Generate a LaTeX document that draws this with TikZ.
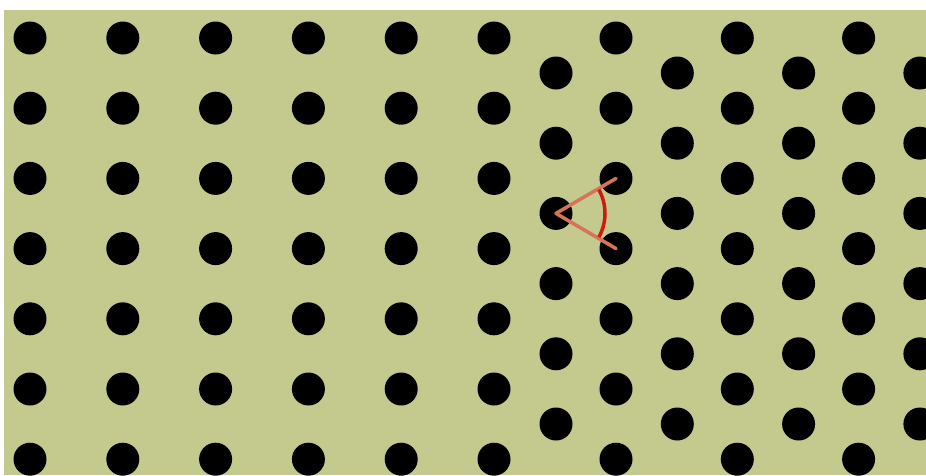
\documentclass[tikz,border=0pt]{standalone}
\usepackage{tikz}

\definecolor{platebg}{RGB}{196,201,142}
\definecolor{bondred}{RGB}{214,116,90}
\definecolor{arcred}{RGB}{202,28,18}

\begin{document}
\begin{tikzpicture}[
    x=1pt, y=-1pt,
    dot/.style={circle, fill=black, minimum size=33pt, inner sep=0pt},
    bond/.style={draw=bondred, line width=3.5pt, line cap=round},
    anglearc/.style={draw=arcred, line width=3.5pt}
]

    % Frame
    \useasboundingbox (0,0) rectangle (926,475);
    \fill [platebg] (4,10) rectangle (926,475);

    \begin{scope}
    \clip (4,10) rectangle (926,475);

    % Square lattice (left)
    \foreach \i in {0,...,5}
        \foreach \j in {0,...,6}
            \node (sq-\i-\j) [dot] at (30+92.8*\i, 38+70.2*\j) {};

    % Hexagonal lattice (right): columns on the square rows
    \foreach \i in {0,1,2}
        \foreach \j in {0,...,6}
            \node (hxa-\i-\j) [dot] at (616+121.3*\i, 38+70.2*\j) {};

    % Hexagonal lattice: shifted columns
    \foreach \i in {0,...,3}
        \foreach \j in {0,...,5}
            \node (hxb-\i-\j) [dot] at (556+121.3*\i, 73+70.2*\j) {};
    \end{scope}

    % 60 degree angle between neighbours
    \draw [bond] (hxb-0-2.center) -- (hxa-0-2.center);
    \draw [bond] (hxb-0-2.center) -- (hxa-0-3.center);
    \draw [anglearc] ([shift={(-29:49)}]hxb-0-2.center) arc [start angle=-29, end angle=29, radius=49];

\end{tikzpicture}
\end{document}
